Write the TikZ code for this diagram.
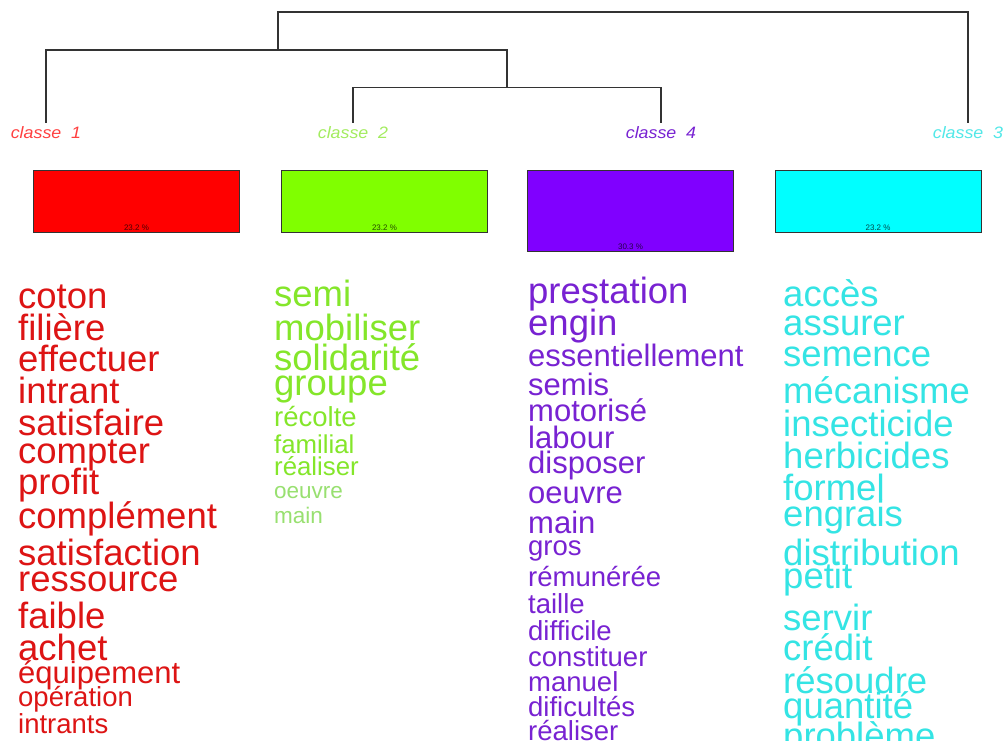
\documentclass[tikz,border=0pt]{standalone}
\usepackage{fontspec}
\setmainfont{Liberation Sans}
\usepackage{tikz}
\usetikzlibrary{positioning}
\definecolor{clred}{HTML}{FF0000}
\definecolor{clgreen}{HTML}{80FF00}
\definecolor{clpurple}{HTML}{8000FF}
\definecolor{clcyan}{HTML}{00FFFF}
\definecolor{txred}{HTML}{DD1414}
\definecolor{txgreen}{HTML}{84E62A}
\definecolor{txpale}{HTML}{98E070}
\definecolor{txpurple}{HTML}{7822D2}
\definecolor{txcyan}{HTML}{34E4E4}
\definecolor{dgray}{HTML}{333333}
\tikzstyle{dendro} = [draw=dgray, line width=1.2pt]
\tikzstyle{classlab} = [anchor=base, inner xsep=0pt, inner ysep=3pt, font=\fontsize{16.5}{16.5}\selectfont\itshape, xscale=1.08]
\tikzstyle{classbox} = [draw=dgray, line width=1pt, minimum width=206pt, inner sep=0pt]
\tikzstyle{pct} = [inner sep=1pt, text=black, opacity=0.7, font=\fontsize{8}{8}\selectfont]
\tikzstyle{word} = [anchor=base west, inner sep=0pt]
\tikzset{xl/.style={font=\fontsize{36.5}{36.5}\selectfont},
         lg/.style={font=\fontsize{31}{31}\selectfont},
         md/.style={font=\fontsize{27.5}{27.5}\selectfont},
         sm/.style={font=\fontsize{25.8}{25.8}\selectfont},
         xs/.style={font=\fontsize{22.5}{22.5}\selectfont}}

\begin{document}
\begin{tikzpicture}[x=1pt, y=-1pt,
                    wred/.style={word, text=txred},
                    wgreen/.style={word, text=txgreen},
                    wpale/.style={word, text=txpale},
                    wpurple/.style={word, text=txpurple},
                    wcyan/.style={word, text=txcyan}]

    \useasboundingbox[fill=white] (0,0) rectangle (1004,740);

    % class labels
    \node[classlab, text=red!75!white] (l1) at (46,138) {classe\ \ 1};
    \node[classlab, text=txgreen!75!white] (l2) at (353,138) {classe\ \ 2};
    \node[classlab, text=txpurple] (l4) at (661,138) {classe\ \ 4};
    \node[classlab, text=txcyan!85!white] (l3) at (968,138) {classe\ \ 3};

    % dendrogram
    \coordinate (j24) at (507,87.5);
    \coordinate (j124) at (278,50);
    \coordinate (jall) at (623,12);
    \draw[dendro] (l2.north) |- (j24) -| (l4.north);
    \draw[dendro] (l1.north) |- (j124) -| (j24);
    \draw[dendro] (j124) |- (jall) -| (l3.north);

    % boxes
    \node[classbox, fill=clred, minimum height=62pt] (b1) at (136.5,201) {};
    \node[classbox, fill=clgreen, minimum height=62pt] (b2) at (384.5,201) {};
    \node[classbox, fill=clpurple, minimum height=81pt] (b4) at (630.5,210.5) {};
    \node[classbox, fill=clcyan, minimum height=62pt] (b3) at (878,201) {};
    \node[pct, above=1pt of b1.south] (p1) {23.2 \%};
    \node[pct, above=1pt of b2.south] (p2) {23.2 \%};
    \node[pct, above=1pt of b4.south] (p4) {30.3 \%};
    \node[pct, above=1pt of b3.south] (p3) {23.2 \%};

    % words classe 1
    \node[wred, xl] (r1) at (18,308) {coton};
    \node[wred, xl] (r2) at (18,340) {filière};
    \node[wred, xl] (r3) at (18,371.5) {effectuer};
    \node[wred, xl] (r4) at (18,403) {intrant};
    \node[wred, xl] (r5) at (18,435.5) {satisfaire};
    \node[wred, xl] (r6) at (18,463) {compter};
    \node[wred, xl] (r7) at (18,494) {profit};
    \node[wred, xl] (r8) at (18,528) {complément};
    \node[wred, xl] (r9) at (18,565) {satisfaction};
    \node[wred, xl] (r10) at (18,591.5) {ressource};
    \node[wred, xl] (r11) at (18,628) {faible};
    \node[wred, xl] (r12) at (18,660) {achet};
    \node[wred, lg] (r13) at (18,683) {équipement};
    \node[wred, md] (r14) at (18,706.5) {opération};
    \node[wred, md] (r15) at (18,733) {intrants};

    % words classe 2
    \node[wgreen, xl] (g1) at (274,306.5) {semi};
    \node[wgreen, xl] (g2) at (274,340) {mobiliser};
    \node[wgreen, xl] (g3) at (274,370) {solidarité};
    \node[wgreen, xl] (g4) at (274,395) {groupe};
    \node[wgreen, md] (g5) at (274,426.5) {récolte};
    \node[wgreen, sm] (g6) at (274,453) {familial};
    \node[wgreen, sm] (g7) at (274,475) {réaliser};
    \node[wpale, xs] (g8) at (274,498) {oeuvre};
    \node[wpale, xs] (g9) at (274,523) {main};

    % words classe 4
    \node[wpurple, xl] (v1) at (528,303) {prestation};
    \node[wpurple, xl] (v2) at (528,335) {engin};
    \node[wpurple, lg] (v3) at (528,366.5) {essentiellement};
    \node[wpurple, lg] (v4) at (528,395) {semis};
    \node[wpurple, lg] (v5) at (528,421.5) {motorisé};
    \node[wpurple, lg] (v6) at (528,448) {labour};
    \node[wpurple, lg] (v7) at (528,473) {disposer};
    \node[wpurple, lg] (v8) at (528,503) {oeuvre};
    \node[wpurple, lg] (v9) at (528,533) {main};
    \node[wpurple, md] (v10) at (528,555) {gros};
    \node[wpurple, md] (v11) at (528,586.5) {rémunérée};
    \node[wpurple, md] (v12) at (528,613) {taille};
    \node[wpurple, md] (v13) at (528,640) {difficile};
    \node[wpurple, md] (v14) at (528,666.5) {constituer};
    \node[wpurple, md] (v15) at (528,691.5) {manuel};
    \node[wpurple, md] (v16) at (528,716.5) {dificultés};
    \node[wpurple, md] (v17) at (528,740) {réaliser};

    % words classe 3
    \node[wcyan, xl] (c1) at (783,306.5) {accès};
    \node[wcyan, xl] (c2) at (783,335) {assurer};
    \node[wcyan, xl] (c3) at (783,366.5) {semence};
    \node[wcyan, xl] (c4) at (783,403) {mécanisme};
    \node[wcyan, xl] (c5) at (783,436.5) {insecticide};
    \node[wcyan, xl] (c6) at (783,468) {herbicides};
    \node[wcyan, xl] (c7) at (783,500) {formel};
    \node[wcyan, xl] (c8) at (783,526.5) {engrais};
    \node[wcyan, xl] (c9) at (783,565) {distribution};
    \node[wcyan, xl] (c10) at (783,588) {petit};
    \node[wcyan, xl] (c11) at (783,630) {servir};
    \node[wcyan, xl] (c12) at (783,660) {crédit};
    \node[wcyan, xl] (c13) at (783,693) {résoudre};
    \node[wcyan, xl] (c14) at (783,718) {quantité};
    \node[wcyan, xl] (c15) at (783,748) {problème};
\end{tikzpicture}
\end{document}
